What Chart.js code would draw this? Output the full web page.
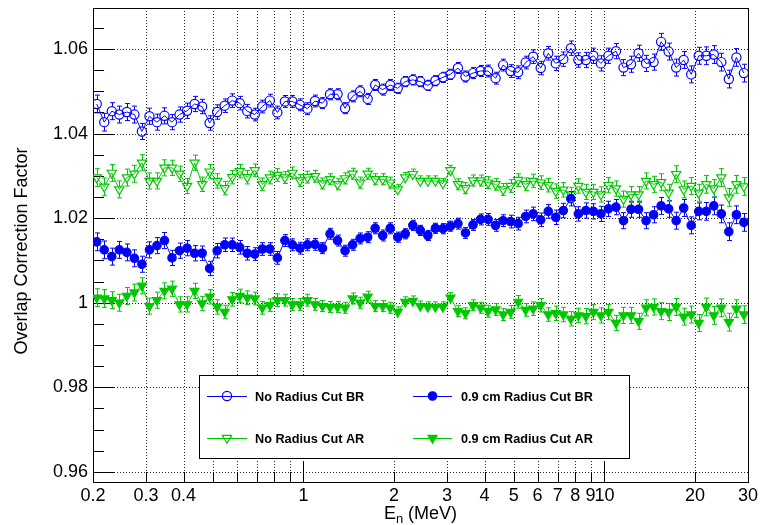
<!DOCTYPE html>
<html>
<head>
<meta charset="utf-8">
<script src="https://cdn.jsdelivr.net/npm/chart.js@4/dist/chart.umd.min.js"></script>
<style>
  html, body { margin: 0; padding: 0; background: #fff; }
  #wrap { width: 762px; height: 525px; }
</style>
</head>
<body>
<div id="wrap"><canvas id="c" width="762" height="525"></canvas></div>
<script>
// Neutron energy bin centres (MeV), 40 bins per decade
const energy = [
  0.2058,0.2180,0.2309,0.2446,0.2591,0.2745,0.2907,0.3080,0.3262,0.3455,
  0.3660,0.3877,0.4107,0.4350,0.4608,0.4881,0.5170,0.5477,0.5801,0.6145,
  0.6509,0.6894,0.7303,0.7735,0.8194,0.8679,0.9193,0.9738,1.0315,1.0926,
  1.1573,1.2259,1.2985,1.3755,1.4570,1.5433,1.6347,1.7316,1.8342,1.9428,
  2.058,2.180,2.309,2.446,2.591,2.745,2.907,3.080,3.262,3.455,
  3.660,3.877,4.107,4.350,4.608,4.881,5.170,5.477,5.801,6.145,
  6.509,6.894,7.303,7.735,8.194,8.679,9.193,9.738,10.315,10.926,
  11.573,12.259,12.985,13.755,14.570,15.433,16.347,17.316,18.342,19.428,
  20.58,21.80,23.09,24.46,25.91,27.45,29.07
];

// No radius cut, before reconstruction (BR)
const noCutBR = [
  1.0470,1.0427,1.0453,1.0445,1.0451,1.0445,1.0405,1.0441,1.0427,1.0442,
  1.0427,1.0445,1.0454,1.0470,1.0464,1.0425,1.0451,1.0466,1.0478,1.0472,
  1.0453,1.0445,1.0464,1.0478,1.0450,1.0476,1.0476,1.0468,1.0459,1.0477,
  1.0472,1.0493,1.0493,1.0460,1.0488,1.0500,1.0482,1.0515,1.0504,1.0515,
  1.0507,1.0523,1.0527,1.0523,1.0514,1.0525,1.0533,1.0540,1.0555,1.0535,
  1.0543,1.0548,1.0548,1.0531,1.0562,1.0548,1.0545,1.0568,1.0582,1.0555,
  1.0590,1.0566,1.0576,1.0602,1.0574,1.0574,1.0584,1.0566,1.0584,1.0595,
  1.0556,1.0564,1.0590,1.0566,1.0569,1.0617,1.0594,1.0556,1.0574,1.0540,
  1.0584,1.0584,1.0587,1.0569,1.0529,1.0580,1.0543
];

// 0.9 cm radius cut, BR
const cutBR = [
  1.0144,1.0125,1.0109,1.0125,1.0119,1.0105,1.0091,1.0125,1.0135,1.0147,
  1.0106,1.0123,1.0129,1.0117,1.0117,1.0081,1.0123,1.0137,1.0137,1.0131,
  1.0117,1.0115,1.0127,1.0127,1.0106,1.0147,1.0137,1.0129,1.0137,1.0138,
  1.0129,1.0163,1.0147,1.0123,1.0137,1.0152,1.0155,1.0176,1.0159,1.0176,
  1.0155,1.0163,1.0183,1.0171,1.0159,1.0176,1.0175,1.0181,1.0187,1.0165,
  1.0184,1.0197,1.0197,1.0183,1.0194,1.0192,1.0187,1.0204,1.0210,1.0196,
  1.0216,1.0202,1.0218,1.0246,1.0210,1.0218,1.0216,1.0210,1.0222,1.0226,
  1.0194,1.0221,1.0221,1.0194,1.0208,1.0229,1.0222,1.0194,1.0224,1.0183,
  1.0216,1.0216,1.0229,1.0210,1.0168,1.0208,1.0190
];

// No radius cut, after reconstruction (AR)
const noCutAR = [
  1.0296,1.0274,1.0307,1.0268,1.0296,1.0305,1.0331,1.0288,1.0288,1.0319,
  1.0319,1.0305,1.0276,1.0331,1.0280,1.0310,1.0288,1.0271,1.0297,1.0311,
  1.0297,1.0313,1.0280,1.0296,1.0302,1.0296,1.0307,1.0289,1.0297,1.0299,
  1.0282,1.0292,1.0280,1.0294,1.0305,1.0284,1.0305,1.0292,1.0292,1.0284,
  1.0268,1.0296,1.0304,1.0288,1.0288,1.0288,1.0282,1.0313,1.0280,1.0271,
  1.0289,1.0289,1.0284,1.0280,1.0268,1.0276,1.0290,1.0280,1.0288,1.0284,
  1.0278,1.0264,1.0267,1.0256,1.0276,1.0262,1.0262,1.0256,1.0278,1.0270,
  1.0245,1.0256,1.0256,1.0288,1.0280,1.0285,1.0260,1.0304,1.0268,1.0276,
  1.0260,1.0280,1.0270,1.0296,1.0249,1.0280,1.0275
];

// 0.9 cm radius cut, AR
const cutAR = [
  1.0012,1.0010,1.0006,1.0000,1.0016,1.0024,1.0040,0.9992,1.0006,1.0028,
  1.0033,0.9996,0.9996,1.0028,0.9998,1.0014,0.9990,0.9978,1.0008,1.0016,
  1.0012,1.0010,0.9988,0.9994,1.0006,1.0006,0.9996,0.9996,1.0006,0.9996,
  0.9992,0.9990,0.9990,0.9988,1.0010,1.0000,1.0014,0.9992,0.9992,0.9988,
  0.9978,1.0002,1.0004,0.9992,0.9990,0.9990,0.9990,1.0012,0.9980,0.9975,
  0.9994,0.9988,0.9980,0.9984,0.9972,0.9978,1.0002,0.9983,0.9986,0.9994,
  0.9972,0.9975,0.9972,0.9962,0.9970,0.9968,0.9978,0.9970,0.9978,0.9952,
  0.9970,0.9970,0.9956,0.9988,0.9990,0.9980,0.9978,0.9990,0.9967,0.9972,
  0.9952,0.9990,0.9970,0.9988,0.9954,0.9986,0.9972
];

// Statistical uncertainty per bin
const binErr = [
  0.0021,0.0021,0.0020,0.0020,0.0020,0.0020,0.0019,0.0019,0.0019,0.0019,
  0.0018,0.0018,0.0018,0.0018,0.0017,0.0017,0.0017,0.0016,0.0016,0.0016,
  0.0016,0.0015,0.0015,0.0015,0.0015,0.0014,0.0014,0.0014,0.0014,0.0014,
  0.0013,0.0013,0.0013,0.0013,0.0013,0.0013,0.0013,0.0013,0.0013,0.0013,
  0.0012,0.0012,0.0012,0.0012,0.0012,0.0012,0.0012,0.0012,0.0013,0.0013,
  0.0013,0.0013,0.0014,0.0014,0.0014,0.0015,0.0015,0.0015,0.0016,0.0016,
  0.0016,0.0017,0.0017,0.0017,0.0017,0.0018,0.0018,0.0018,0.0018,0.0018,
  0.0019,0.0019,0.0019,0.0019,0.0019,0.0020,0.0020,0.0020,0.0020,0.0020,
  0.0020,0.0021,0.0021,0.0021,0.0021,0.0021,0.0021
];

// Axis ticks
const xTicks = [0.2,0.3,0.4,0.5,0.6,0.7,0.8,0.9,1,2,3,4,5,6,7,8,9,10,20,30];
const xLabelled = [0.2,0.3,0.4,1,2,3,4,5,6,7,8,9,10,20,30];
const yTicks = [0.96,0.98,1.00,1.02,1.04,1.06];
const yMinorStep = 0.005;

const BLUE = '#0000ff';
const GREEN = '#00c800';
const FONT = "'Liberation Sans', Arial, Helvetica, sans-serif";

function pts(vals) { return vals.map((v, i) => ({ x: energy[i], y: v })); }

const series = [
  { label: 'No Radius Cut BR',        data: pts(noCutBR), color: BLUE,  style: 'circle',   filled: false, r: 4.6 },
  { label: '0.9 cm Radius Cut BR',    data: pts(cutBR),   color: BLUE,  style: 'circle',   filled: true,  r: 4.2 },
  { label: 'No Radius Cut AR',        data: pts(noCutAR), color: GREEN, style: 'triangle', filled: false, r: 5.3 },
  { label: '0.9 cm Radius Cut AR',    data: pts(cutAR),   color: GREEN, style: 'triangle', filled: true,  r: 5.2 }
];

const datasets = series.map(s => ({
  label: s.label,
  data: s.data,
  err: binErr,
  showLine: true,
  borderColor: s.color,
  borderWidth: 1,
  tension: 0,
  pointStyle: s.style,
  rotation: s.style === 'triangle' ? 180 : 0,
  pointRadius: s.r,
  pointHoverRadius: s.r,
  pointBorderWidth: 1.2,
  pointBorderColor: s.color,
  pointBackgroundColor: s.filled ? s.color : 'rgba(0,0,0,0)',
  backgroundColor: s.filled ? s.color : 'rgba(0,0,0,0)',
  gapUp: s.style === 'triangle' ? s.r * 0.5 : s.r,
  gapDown: s.r
}));

// Frame, dotted grid and tick marks
const framePlugin = {
  id: 'frame',
  beforeDatasetsDraw(chart) {
    const { ctx, chartArea: a, scales: { x, y } } = chart;
    ctx.save();
    // dotted grid
    ctx.strokeStyle = '#222';
    ctx.lineWidth = 1;
    ctx.setLineDash([1, 2]);
    xTicks.forEach(v => {
      if (v <= 0.2 || v >= 30) return;
      const px = Math.round(x.getPixelForValue(v)) + 0.5;
      ctx.beginPath(); ctx.moveTo(px, a.top); ctx.lineTo(px, a.bottom); ctx.stroke();
    });
    yTicks.forEach(v => {
      const py = Math.round(y.getPixelForValue(v)) + 0.5;
      ctx.beginPath(); ctx.moveTo(a.left, py); ctx.lineTo(a.right, py); ctx.stroke();
    });
    ctx.setLineDash([]);
    // tick marks
    ctx.strokeStyle = '#000';
    for (let k = 0; ; k++) {
      const v = 0.96 + k * yMinorStep - 0.005;
      if (v > y.max) break;
      if (v < y.min) continue;
      const major = yTicks.some(t => Math.abs(t - v) < 1e-6);
      const py = Math.round(y.getPixelForValue(v)) + 0.5;
      ctx.beginPath(); ctx.moveTo(a.left, py); ctx.lineTo(a.left + (major ? 22 : 11), py); ctx.stroke();
    }
    xTicks.forEach(v => {
      const major = (v === 1 || v === 10);
      const px = Math.round(x.getPixelForValue(v)) + 0.5;
      ctx.beginPath(); ctx.moveTo(px, a.bottom); ctx.lineTo(px, a.bottom - (major ? 20 : 10)); ctx.stroke();
    });
    // frame
    ctx.lineWidth = 1;
    ctx.strokeRect(Math.round(a.left) + 0.5, Math.round(a.top) + 0.5,
                   Math.round(a.right - a.left), Math.round(a.bottom - a.top));
    ctx.restore();
  }
};

// Vertical error bars with end caps, kept clear of the marker
const errPlugin = {
  id: 'errbars',
  afterDatasetsDraw(chart) {
    const { ctx, scales: { x, y } } = chart;
    chart.data.datasets.forEach(ds => {
      ctx.save();
      ctx.strokeStyle = ds.borderColor;
      ctx.lineWidth = 1;
      ds.data.forEach((p, i) => {
        const e = ds.err[i];
        const px = Math.round(x.getPixelForValue(p.x)) + 0.5;
        const py = y.getPixelForValue(p.y);
        const top = y.getPixelForValue(p.y + e);
        const bot = y.getPixelForValue(p.y - e);
        ctx.beginPath();
        if (py - top > ds.gapUp) {
          ctx.moveTo(px, py - ds.gapUp); ctx.lineTo(px, top);
          ctx.moveTo(px - 2.5, top); ctx.lineTo(px + 2.5, top);
        }
        if (bot - py > ds.gapDown) {
          ctx.moveTo(px, py + ds.gapDown); ctx.lineTo(px, bot);
          ctx.moveTo(px - 2.5, bot); ctx.lineTo(px + 2.5, bot);
        }
        ctx.stroke();
      });
      ctx.restore();
    });
  }
};

function drawMarker(ctx, ds, cx, cy) {
  ctx.save();
  ctx.lineWidth = ds.pointBorderWidth;
  ctx.strokeStyle = ds.pointBorderColor;
  ctx.fillStyle = ds.pointBackgroundColor;
  Chart.helpers.drawPoint(ctx, {
    pointStyle: ds.pointStyle, rotation: ds.rotation,
    radius: ds.pointRadius, borderWidth: ds.pointBorderWidth
  }, cx, cy);
  ctx.restore();
}

// Legend box, axis titles
const decorPlugin = {
  id: 'decor',
  afterDraw(chart) {
    const { ctx, chartArea: a } = chart;
    ctx.save();
    // legend
    const L = 199.5, T = 375.5, R = 629.5, B = 458.5;
    ctx.fillStyle = '#fff';
    ctx.fillRect(L, T, R - L, B - T);
    ctx.strokeStyle = '#000'; ctx.lineWidth = 1;
    ctx.strokeRect(L, T, R - L, B - T);
    const cols = [{ x0: 207, x1: 247, tx: 255 }, { x0: 413, x1: 452, tx: 461 }];
    const rows = [396, 438];
    const order = [[0, 0, 0], [1, 1, 0], [2, 0, 1], [3, 1, 1]];
    ctx.font = 'bold 12.7px ' + FONT;
    ctx.textBaseline = 'middle';
    ctx.textAlign = 'left';
    order.forEach(([di, c, r]) => {
      const ds = chart.data.datasets[di];
      const col = cols[c], yy = rows[r];
      ctx.strokeStyle = ds.borderColor; ctx.lineWidth = 1;
      ctx.beginPath(); ctx.moveTo(col.x0, yy + 0.5); ctx.lineTo(col.x1, yy + 0.5); ctx.stroke();
      drawMarker(ctx, ds, (col.x0 + col.x1) / 2, yy);
      ctx.fillStyle = '#000';
      ctx.fillText(ds.label, col.tx, yy + 1);
    });
    // x title with subscript
    ctx.fillStyle = '#000';
    ctx.textBaseline = 'alphabetic';
    const big = '18px ' + FONT, small = '13px ' + FONT;
    ctx.font = big; const wE = ctx.measureText('E').width;
    ctx.font = small; const wn = ctx.measureText('n').width;
    ctx.font = big; const wR = ctx.measureText(' (MeV)').width;
    const total = wE + wn + wR;
    let xs = (a.left + a.right) / 2 - total / 2;
    const base = 519;
    ctx.font = big; ctx.fillText('E', xs, base); xs += wE;
    ctx.font = small; ctx.fillText('n', xs, base + 4); xs += wn;
    ctx.font = big; ctx.fillText(' (MeV)', xs, base);
    // y title
    ctx.translate(22, 251);
    ctx.rotate(-Math.PI / 2);
    ctx.textAlign = 'center';
    ctx.textBaseline = 'middle';
    ctx.font = big;
    ctx.fillText('Overlap Correction Factor', 0, 0);
    ctx.restore();
  }
};

new Chart(document.getElementById('c'), {
  type: 'scatter',
  data: { datasets },
  plugins: [framePlugin, errPlugin, decorPlugin],
  options: {
    responsive: false,
    animation: false,
    devicePixelRatio: 1,
    layout: { padding: { left: 0, right: 14, top: 8, bottom: 0 } },
    plugins: { legend: { display: false }, tooltip: { enabled: false } },
    scales: {
      x: {
        type: 'logarithmic',
        min: 0.2, max: 30,
        afterBuildTicks: s => { s.ticks = xTicks.map(v => ({ value: v })); },
        afterFit: s => { s.height = 43; s.paddingLeft = 0; s.paddingRight = 0; },
        grid: { display: false, drawTicks: false },
        border: { display: false },
        ticks: {
          autoSkip: false, maxRotation: 0, minRotation: 0, padding: 3,
          color: '#000', font: { family: FONT, size: 18 },
          callback: v => xLabelled.includes(v) ? String(v) : ''
        }
      },
      y: {
        type: 'linear',
        min: 0.9576, max: 1.0697,
        afterBuildTicks: s => { s.ticks = yTicks.map(v => ({ value: v })); },
        afterFit: s => { s.width = 93; s.paddingTop = 0; s.paddingBottom = 0; },
        grid: { display: false, drawTicks: false },
        border: { display: false },
        ticks: {
          padding: 5,
          color: '#000', font: { family: FONT, size: 18 },
          callback: v => String(Number(v.toFixed(2)))
        }
      }
    }
  }
});
</script>
</body>
</html>
